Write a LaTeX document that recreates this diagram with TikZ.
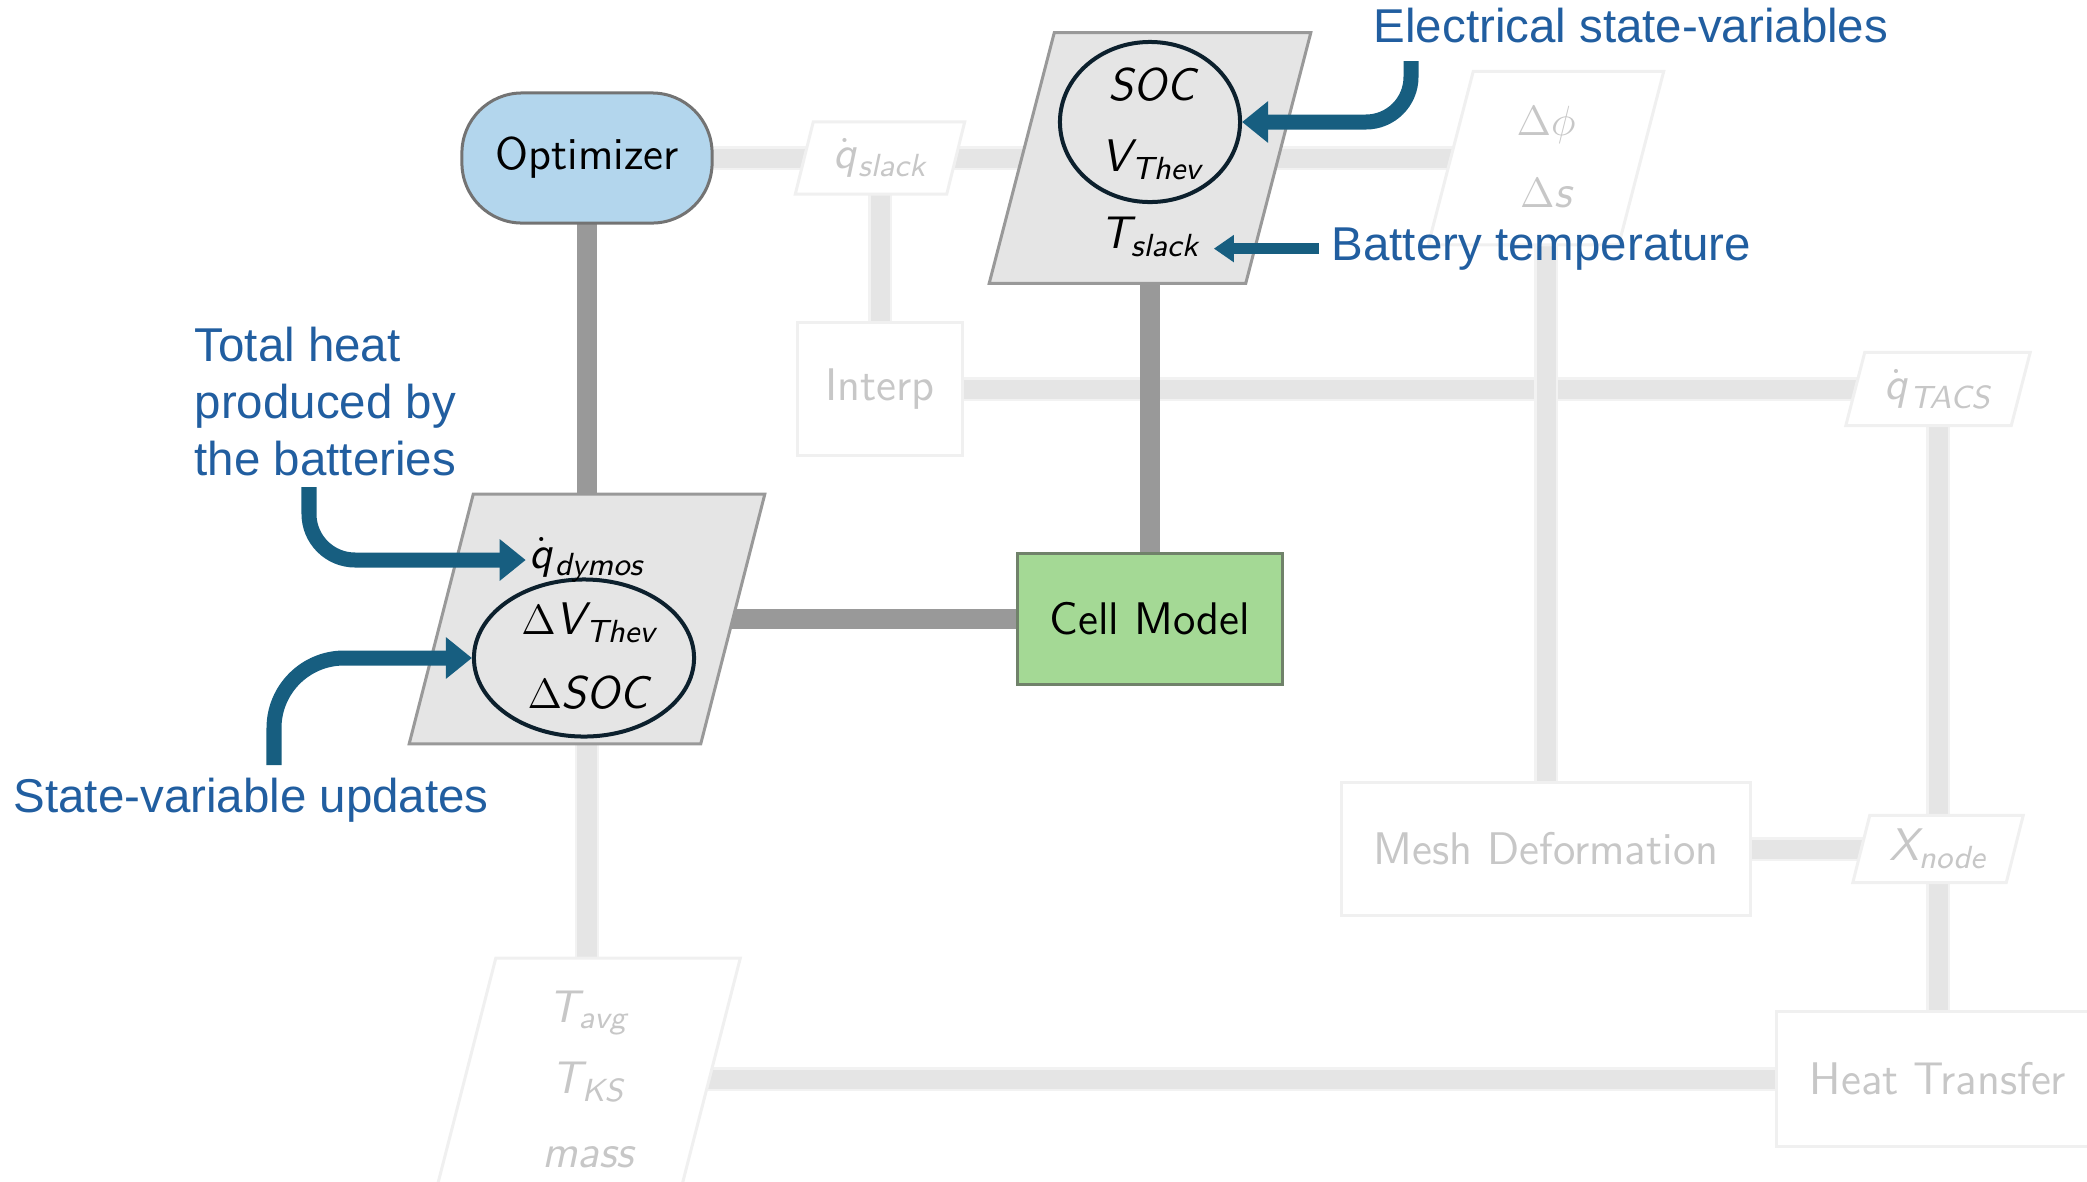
\documentclass[tikz,border=0pt]{standalone}
\usepackage{fontspec}
\newfontfamily\anfont{Liberation Sans}
\usetikzlibrary{shapes.geometric,arrows.meta,backgrounds}
\pgfdeclarelayer{parlayer}
\pgfsetlayers{background,parlayer,main}
\definecolor{antext}{RGB}{33,94,160}
\definecolor{anarrow}{RGB}{23,94,128}
\definecolor{optfill}{RGB}{179,214,237}
\definecolor{cellfill}{RGB}{164,217,149}
\definecolor{celldraw}{RGB}{112,130,106}
\definecolor{ellcol}{RGB}{12,32,45}
\newcommand\vr[1]{{\sffamily\itshape #1}}
\newcommand\sbs[1]{\textsubscript{\sffamily\itshape #1}}
\newcommand\qdot{$\dot{\hbox{\sffamily\itshape q}}$\kern0.6pt}
% parallelogram outline round a rectangular node: name, half slant, style
\newcommand\pargram[3]{%
  \path[#3] ([xshift=#2]#1.north west) -- ([xshift=#2]#1.north east)
    -- ([xshift=-#2]#1.south east) -- ([xshift=-#2]#1.south west) -- cycle;}
\tikzset{
 boxfont/.style={font=\sffamily\fontsize{13}{15.6}\selectfont},
 optbox/.style={boxfont, rectangle, rounded corners=0.6cm, fill=optfill, draw=black!55, line width=0.03cm, minimum width=2.5cm, minimum height=1.3cm},
 cellbox/.style={boxfont, rectangle, fill=cellfill, draw=celldraw, line width=0.03cm, minimum width=2.65cm, minimum height=1.3cm},
 fadedbox/.style={boxfont, rectangle, fill=white, draw=black!6, line width=0.03cm, text=black!22},
 parnode/.style={boxfont, rectangle, inner sep=0pt},
 fparnode/.style={parnode, text=black!22},
 datapar/.style={fill=black!10, draw=black!40, line width=0.03cm},
 fadedpar/.style={fill=white, draw=black!6, line width=0.03cm},
 vtext/.style={boxfont, inner sep=1pt},
 fvtext/.style={vtext, text=black!22},
 ell/.style={ellipse, draw=ellcol, line width=0.04cm, inner sep=0pt},
 darkline/.style={draw=black!40, line width=0.2cm},
 lightline/.style={draw=black!5, double=black!10, line width=0.025cm, double distance=0.19cm},
 antxt/.style={font=\anfont\fontsize{13.5}{16.3}\selectfont, text=antext, inner sep=0pt},
 anarr/.style={draw=anarrow, line width=0.15cm, -{Triangle[length=0.26cm,width=0.4cm]}},
}
\begin{document}
\begin{tikzpicture}[x=0.01cm,y=-0.01cm]
\useasboundingbox (0,0) rectangle (2087,1181);
% main nodes
\node[optbox] (opt) at (587,158) {Optimizer};
\node[fparnode, minimum width=1.5cm, minimum height=0.71cm] (qslack) at (880,158) {\qdot\sbs{slack}};
\node[parnode, minimum width=2.55cm, minimum height=2.49cm] (tpar) at (1150,158) {};
\node[fparnode, minimum width=1.89cm, minimum height=1.72cm] (dphi) at (1546,158) {};
\node[fadedbox, minimum width=1.65cm, minimum height=1.33cm] (interp) at (880,389) {Interp};
\node[fparnode, minimum width=1.64cm, minimum height=0.72cm] (qtacs) at (1938,389) {\qdot\sbs{TACS}};
\node[parnode, minimum width=2.9cm, minimum height=2.48cm] (lpar) at (587,619) {};
\node[cellbox] (cell) at (1150,619) {Cell Model};
\node[fadedbox, minimum width=4.09cm, minimum height=1.33cm] (mesh) at (1546,849) {Mesh Deformation};
\node[fparnode, minimum width=1.52cm, minimum height=0.66cm] (xnode) at (1938,849) {\vr{X}\sbs{node}};
\node[fadedbox, minimum width=3.22cm, minimum height=1.34cm] (heat) at (1938,1079) {Heat Transfer};
\node[fparnode, minimum width=2.43cm, minimum height=2.4cm] (bpar) at (587,1079) {};
% parallelogram outlines
\begin{pgfonlayer}{parlayer}
\pargram{qslack}{0.09cm}{fadedpar}
\pargram{tpar}{0.325cm}{datapar}
\pargram{dphi}{0.225cm}{fadedpar}
\pargram{qtacs}{0.095cm}{fadedpar}
\pargram{lpar}{0.32cm}{datapar}
\pargram{xnode}{0.085cm}{fadedpar}
\pargram{bpar}{0.31cm}{fadedpar}
\end{pgfonlayer}
% contents
\node[ell, minimum width=1.8cm, minimum height=1.6cm] (tell) at (1150,122) {};
\node[vtext] (soc) at (1152,85) {\vr{SOC}};
\node[vtext] (vthev) at (1152,160) {\vr{V}\sbs{Thev}};
\node[vtext] (tslack) at (1150,237) {\vr{T}\sbs{slack}};
\node[fvtext] (dphit) at (1546,125) {$\Delta\phi$};
\node[fvtext] (dst) at (1546,193) {$\Delta$\vr{s}};
\node[ell, minimum width=2.2cm, minimum height=1.57cm] (lell) at (584,658) {};
\node[vtext] (qdymos) at (587,560) {\qdot\sbs{dymos}};
\node[vtext] (dvthev) at (589,623) {$\Delta$\vr{V}\sbs{Thev}};
\node[vtext] (dsoc) at (588,693) {$\Delta$\vr{SOC}};
\node[fvtext] (tavg) at (588,1013) {\vr{T}\sbs{avg}};
\node[fvtext] (tks) at (588,1082) {\vr{T}\sbs{KS}};
\node[fvtext] (mass) at (588,1157) {\vr{mass}};
% connectors
\begin{pgfonlayer}{background}
\draw[lightline] (opt.center) -- (qslack.center);
\draw[lightline] (qslack.center) -- (tpar.center);
\draw[lightline] (tpar.center) -- (dphi.center);
\draw[lightline] (qslack.center) -- (interp.center);
\draw[lightline] (interp.center) -- (qtacs.center);
\draw[lightline] (dphi.center) -- (mesh.center);
\draw[lightline] (qtacs.center) -- (xnode.center);
\draw[lightline] (mesh.center) -- (xnode.center);
\draw[lightline] (xnode.center) -- (heat.center);
\draw[lightline] (lpar.center) -- (bpar.center);
\draw[lightline] (bpar.center) -- (heat.center);
\draw[darkline] (opt.center) -- (lpar.center);
\draw[darkline] (tpar.center) -- (cell.center);
\draw[darkline] (lpar.center) -- (cell.center);
\end{pgfonlayer}
% annotations
\node[antxt, anchor=base west] (eslabel) at (1373,42) {Electrical state-variables};
\node[antxt, anchor=base west] (btlabel) at (1331,260) {Battery temperature};
\node[antxt, anchor=north west, align=left] (thlabel) at (194,326) {Total heat\\produced by\\the batteries};
\node[antxt, anchor=base west] (svlabel) at (13,812) {State-variable updates};
\coordinate (ea) at (1411,61);
\coordinate (tha) at (309,487);
\coordinate (sva) at (274,765);
\draw[anarr, rounded corners=0.45cm] (ea) |- (tell.east);
\draw[anarr, line width=0.11cm, -{Triangle[length=0.2cm,width=0.26cm]}] ([xshift=-0.12cm]btlabel.west) -- ([xshift=0.1cm]tslack.east |- btlabel.west);
\draw[anarr, rounded corners=0.46cm] (tha) |- (qdymos.west);
\draw[anarr, rounded corners=0.7cm] (sva) |- (lell.west);
\end{tikzpicture}
\end{document}
